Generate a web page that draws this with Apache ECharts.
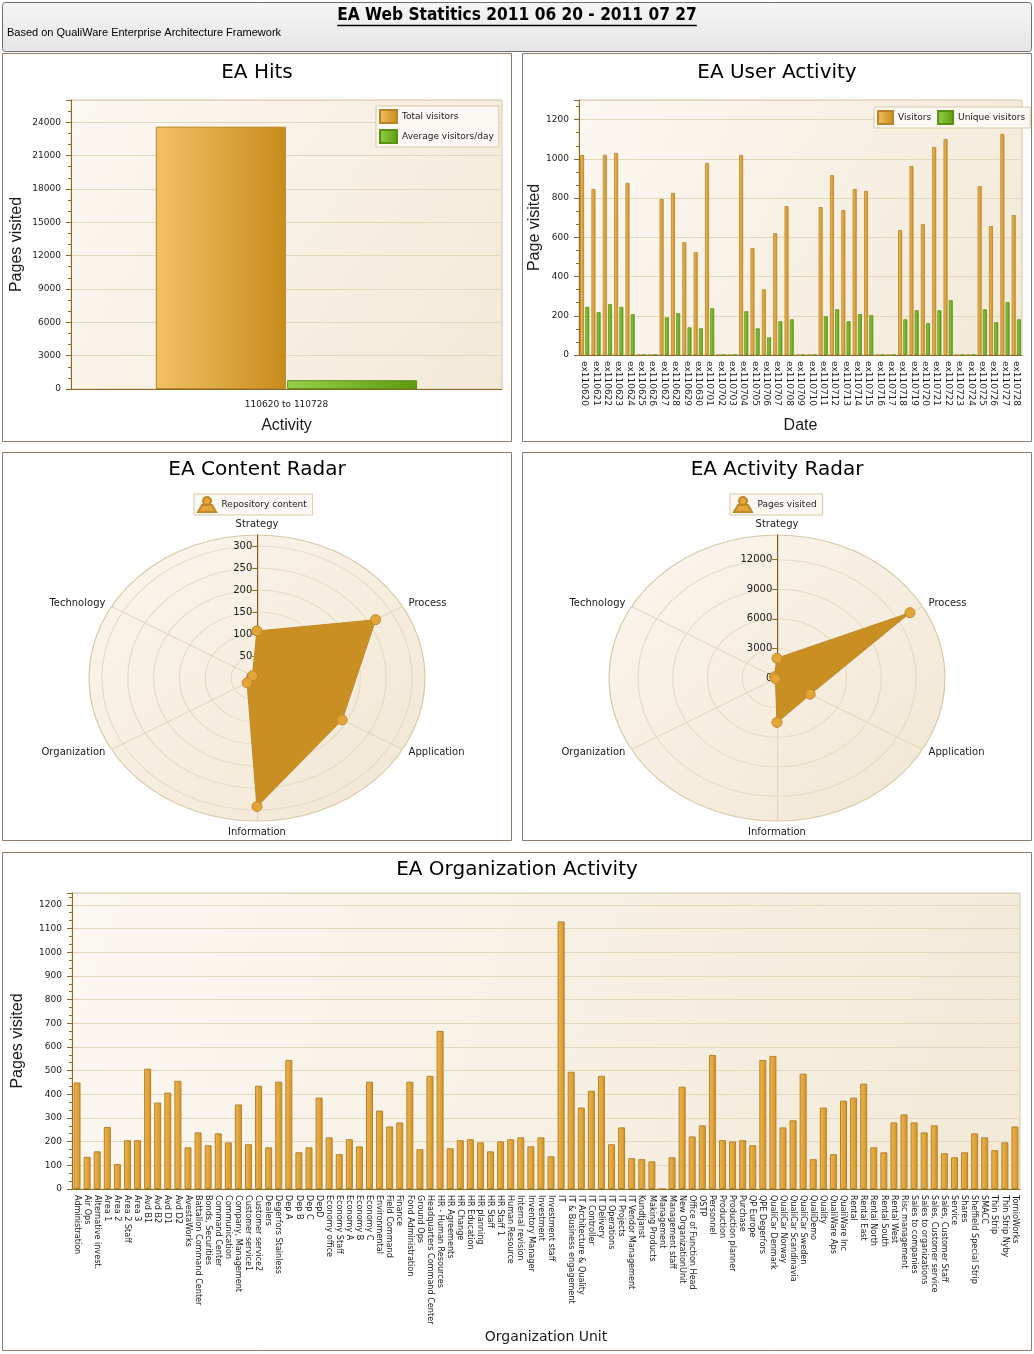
<!DOCTYPE html>
<html><head><meta charset="utf-8">
<script src="https://cdn.jsdelivr.net/npm/echarts@6/dist/echarts.min.js"></script>
<style>html,body{margin:0;padding:0;background:#fff}#c{width:1034px;height:1354px}</style>
</head><body><div id="c"></div>
<script>
// ---------------- DATA ----------------
const headerTitle = 'EA Web Statitics 2011 06 20 - 2011 07 27';
const headerSubtitle = 'Based on QualiWare Enterprise Architecture Framework';

const hitsCategories = ['110620 to 110728'];
const hitsTotalVisitors = [23600];
const hitsAverageVisitorsPerDay = [790];

const activityDates = ['ex110620','ex110621','ex110622','ex110623','ex110624','ex110625','ex110626','ex110627','ex110628','ex110629','ex110630',
  'ex110701','ex110702','ex110703','ex110704','ex110705','ex110706','ex110707','ex110708','ex110709','ex110710','ex110711','ex110712','ex110713',
  'ex110714','ex110715','ex110716','ex110717','ex110718','ex110719','ex110720','ex110721','ex110722','ex110723','ex110724','ex110725','ex110726',
  'ex110727','ex110728'];
const dailyVisitors = [1020,846,1020,1030,877,0,0,795,826,575,524,979,0,0,1020,545,335,621,759,0,0,754,917,739,846,836,0,0,637,963,667,1060,1101,0,0,861,657,1127,713];
const dailyUniqueVisitors = [245,218,259,245,208,0,0,192,213,141,136,238,0,0,223,136,90,172,182,0,0,197,233,172,208,203,0,0,182,228,162,228,279,0,0,233,167,269,182];

// radar indicators listed in ECharts order (counter-clockwise from top)
const radarIndicators = ['Strategy','Technology','Organization','Information','Application','Process'];
const repositoryContent = [107,10,22,292,190,265];
const pagesVisitedByArea = [2000,250,150,4500,3300,13250];
const contentRadarTickMax = 300, contentRadarTickStep = 50, contentRadarOuter = 325;
const activityRadarTickMax = 12000, activityRadarTickStep = 3000, activityRadarOuter = 14500;

const orgUnits = ['Administration','Air Ops','Alternative invest.','Area 1','Area 2','Area 2 Staff','Area 3','Avd B1','Avd B2','Avd D1','Avd D2',
  'AvestaWorks','Battalion Command Center','Bonds, Securities','Command Center','Communication','Company, Management','Customer service1',
  'Customer service2','Dealers','Degerfors Stainless','Dep A','Dep B','Dep C','DepD','Economy office','Economy Staff','Economy A','Economy B',
  'Economy C','Environmental','Field Command','Finance','Fond Administration','Ground Ops','Headquarters Command Center','HR - Human Resources',
  'HR Agreements','HR Change','HR Education','HR planning','HR Staff','HR Staff 1','Human Resource','Internal revision','Inventory Manager',
  'Investment','Investment staff','IT','IT & Business engagement','IT Architecture & Quality','IT Controller','IT Delivery','IT Operations',
  'IT Projects','IT Vendor Management','Kundtjanst','Making Products','Management','Management staff','New OrganizationUnit',
  'Office of Function Head','OSTP','Personnel','Production','Production planner','Purchase','QP Europe','QPE Degerfors','QualiCar Denmark',
  'QualiCar Norway','QualiCar Scandinavia','QualiCar Sweden','QualiDemo','Quality','QualiWare Aps','QualiWare Inc','Rental','Rental East',
  'Rental North','Rental South','Rental West','Risc management','Sales to companies','Sales to organizations','Sales, Customer service',
  'Sales, Customer Staff','Service','Shares','Sheffield Special Strip','SMACC','Thin Strip','Thin Strip Nyby','TornioWorks'];
const orgPagesVisited = [450,136,159,262,105,206,206,508,365,407,
  457,176,239,185,235,197,357,189,436,176,
  453,545,155,176,386,218,147,210,180,453,
  331,264,281,453,168,478,667,172,206,210,
  197,159,201,210,218,180,218,138,1130,495,
  344,415,478,189,260,130,126,117,0,134,
  432,222,269,566,206,201,206,185,545,562,
  260,290,487,126,344,147,373,386,445,176,
  155,281,315,281,239,269,151,134,155,235,
  218,164,197,264];

// ---------------- STYLE ----------------
const F = '"DejaVu Sans", Verdana, sans-serif';
const FN = '"DejaVu Sans Condensed", "Liberation Sans Narrow", "Arial Narrow", sans-serif';
const FA = '"Liberation Sans", Arial, sans-serif';
const AX = '#8B6B23';
const GRIDC = '#E2D6BD';
const TXT = '#1a1a1a';
const LG = echarts.graphic.LinearGradient;
const orange = new LG(0,0,1,0,[{offset:0,color:'#F2C165'},{offset:1,color:'#C98B1C'}]);
const orgOrange = new LG(0,0,1,0,[{offset:0,color:'#EDB752'},{offset:0.5,color:'#E2A53C'},{offset:1,color:'#CF9228'}]);
const green = new LG(0,0,1,0,[{offset:0,color:'#95D04C'},{offset:1,color:'#5C9B0E'}]);
const plotBg = () => new LG(0,0,1,1,[{offset:0,color:'#FCF8F2'},{offset:1,color:'#F2E9D7'}]);
const radarBg = () => new LG(0,0,1,1,[{offset:0,color:'#FBF6EE'},{offset:1,color:'#F1E6D2'}]);
const RADAR_R = 143;            // vertical radius
const RADAR_STRETCH = 168 / 143; // horizontal / vertical (elliptical look)

const chart = echarts.init(document.getElementById('c'), null, {renderer:'canvas'});

// header title size fit
const mctx = document.createElement('canvas').getContext('2d');
mctx.font = 'bold 20px ' + FN;
let hSize = 20 * 360 / mctx.measureText(headerTitle).width;
hSize = Math.max(15, Math.min(22, hSize));
mctx.font = 'bold ' + hSize + 'px ' + FN;
const hW = mctx.measureText(headerTitle).width;

const plain = v => String(v);

function yAxisCommon(extra) {
  return Object.assign({
    type:'value', min:0,
    axisLine:{show:true, lineStyle:{color:AX}},
    axisTick:{show:true, length:5, lineStyle:{color:AX}},
    minorTick:{show:true, splitNumber:3, length:3, lineStyle:{color:AX}},
    minorSplitLine:{show:false},
    axisLabel:{showMaxLabel:false, fontSize:9, fontFamily:F, color:TXT, margin:10, formatter: plain},
    splitLine:{show:true, lineStyle:{color:GRIDC}},
    nameLocation:'middle', nameRotate:90,
    nameTextStyle:{fontFamily:FA, fontSize:16, color:TXT}
  }, extra);
}

const hitsAxisData = ['', ''].concat(hitsCategories, ['', '']);
const padHits = arr => ['-','-'].concat(arr, ['-','-']);

const legendBox = {backgroundColor:'#FCF9F4', borderColor:'#D9C8A6', borderWidth:1, textStyle:{fontFamily:F, fontSize:9, color:TXT}};
const personIcon = 'path://M5,4a4,4 0 1,0 8,0a4,4 0 1,0 -8,0zM4,8L14,8L18,15L0,15z';

function radarPair(center, R, outerMax, tickMax, tickStep) {
  const innerR = R * tickMax / outerMax;
  return [
    {
      center, radius:R, startAngle:90, shape:'circle', splitNumber:1,
      indicator: radarIndicators.map((n,i)=> i===0 ? {name:n, min:0, max:outerMax, axisLine:{lineStyle:{color:'#7A5A1E', width:1}}} : {name:n, min:0, max:outerMax}),
      axisName:{color:TXT, fontFamily:F, fontSize:10}, nameGap:6,
      axisLine:{show:true, lineStyle:{color:'#E3D7C0'}},
      splitLine:{lineStyle:{color:'#D8C7A6'}},
      splitArea:{show:true, areaStyle:{color:[radarBg()]}},
      axisTick:{show:false}, axisLabel:{show:false}
    },
    {
      center, radius:innerR, startAngle:90, shape:'circle', splitNumber: tickMax/tickStep,
      indicator: radarIndicators.map((n,i)=> i===0 ?
        {name:n, min:0, max:tickMax, axisTick:{show:true, length:4, lineStyle:{color:AX}}, axisLabel:{show:true, fontSize:10, fontFamily:F, color:TXT, margin:4, formatter: plain}} :
        {name:n, min:0, max:tickMax}),
      axisName:{show:false},
      axisLine:{show:false},
      splitLine:{lineStyle:{color:'#E6DAC3'}},
      splitArea:{show:false},
      axisTick:{show:false}, axisLabel:{show:false, formatter: plain}
    }
  ];
}

const radarSeriesStyle = {
  symbol:'circle', symbolSize:10,
  areaStyle:{color:'#CA8F22', opacity:1},
  lineStyle:{color:'#B5842A', width:1},
  itemStyle:{color:'#E3A537', borderColor:'#C2892A', borderWidth:1}
};

const panel = (x,y,w,h) => ({type:'rect', z:-5, shape:{x,y,width:w,height:h}, style:{fill:'#fff', stroke:'#8E7D6B', lineWidth:1}});
const ttl = (x,y,t) => ({type:'text', z:50, x, y, style:{text:t, font:'20px ' + F, fill:'#000', align:'center', verticalAlign:'middle'}});

const option = {
  animation:false,
  backgroundColor:'#fff',
  graphic:[
    panel(2.5,53.5,509,388), panel(522.5,53.5,509,388), panel(2.5,452.5,509,388), panel(522.5,452.5,509,388), panel(2.5,852.5,1029,498),
    {type:'rect', z:20, shape:{x:2.5,y:2.5,width:1029,height:49,r:3}, style:{fill:new LG(0,0,0,1,[{offset:0,color:'#F5F5F5'},{offset:1,color:'#E6E6E6'}]), stroke:'#6E6E6E', lineWidth:1}},
    {type:'text', z:30, x:517, y:16, style:{text:headerTitle, font:'bold ' + hSize + 'px ' + FN, fill:'#000', align:'center', verticalAlign:'middle'}},
    {type:'line', z:30, shape:{x1:517-hW/2, y1:25.5, x2:517+hW/2, y2:25.5}, style:{stroke:'#000', lineWidth:1.5}},
    {type:'text', z:30, x:7, y:33, style:{text:headerSubtitle, font:'11px ' + FA, fill:'#000', align:'left', verticalAlign:'middle'}},
    ttl(257,73,'EA Hits'), ttl(777,73,'EA User Activity'), ttl(257,470,'EA Content Radar'), ttl(777,470,'EA Activity Radar'), ttl(517,870,'EA Organization Activity')
  ],
  grid:[
    {left:71, top:100, width:431, height:289, show:true, backgroundColor:plotBg(), borderColor:'#D6C6A6', borderWidth:1},
    {left:579, top:100, width:443, height:255, show:true, backgroundColor:plotBg(), borderColor:'#D6C6A6', borderWidth:1},
    {left:72, top:893, width:948, height:296, show:true, backgroundColor:plotBg(), borderColor:'#D6C6A6', borderWidth:1}
  ],
  xAxis:[
    {gridIndex:0, type:'category', data:hitsAxisData,
     axisLine:{lineStyle:{color:AX}}, axisTick:{alignWithLabel:true, length:4, lineStyle:{color:AX}},
     axisLabel:{interval:0, fontSize:9, fontFamily:F, color:TXT, margin:11},
     name:'Activity', nameLocation:'middle', nameGap:29, nameTextStyle:{fontFamily:FA, fontSize:16, color:TXT}},
    {gridIndex:1, type:'category', data:activityDates,
     axisLine:{lineStyle:{color:AX}}, axisTick:{alignWithLabel:true, interval:0, length:4, lineStyle:{color:AX}},
     axisLabel:{interval:0, rotate:-90, fontSize:9, fontFamily:F, color:TXT, margin:6},
     name:'Date', nameLocation:'middle', nameGap:63, nameTextStyle:{fontFamily:FA, fontSize:16, color:TXT}},
    {gridIndex:2, type:'category', data:orgUnits,
     axisLine:{lineStyle:{color:AX}}, axisTick:{alignWithLabel:true, interval:0, length:4, lineStyle:{color:AX}},
     axisLabel:{interval:0, rotate:-90, fontSize:9, fontFamily:FN, color:TXT, margin:6},
     name:'Organization Unit', nameLocation:'middle', nameGap:141, nameTextStyle:{fontFamily:F, fontSize:14, color:TXT}}
  ],
  yAxis:[
    yAxisCommon({gridIndex:0, max:26000, interval:3000, name:'Pages visited', nameGap:46}),
    yAxisCommon({gridIndex:1, max:1300, interval:200, name:'Page visited', nameGap:36}),
    yAxisCommon({gridIndex:2, max:1250, interval:100, name:'Pages visited', nameGap:46})
  ],
  legend:[
    Object.assign({data:['Total visitors','Average visitors/day'], orient:'vertical', left:376, top:106, itemWidth:17, itemHeight:13, itemGap:5, padding:[3,5,3,3], icon:'rect'}, legendBox),
    Object.assign({data:['Visitors','Unique visitors'], orient:'horizontal', left:874, top:107, itemWidth:15, itemHeight:13, itemGap:6, padding:[3,5,3,3], icon:'rect'}, legendBox),
    Object.assign({data:['Repository content'], left:194, top:494, itemWidth:19, itemHeight:15, padding:[2,6,2,3], icon:personIcon}, legendBox),
    Object.assign({data:['Pages visited'], left:730, top:494, itemWidth:19, itemHeight:15, padding:[2,6,2,3], icon:personIcon}, legendBox)
  ],
  radar: radarPair([257,678], RADAR_R, contentRadarOuter, contentRadarTickMax, contentRadarTickStep)
    .concat(radarPair([777,678], RADAR_R, activityRadarOuter, activityRadarTickMax, activityRadarTickStep)),
  series:[
    {type:'bar', name:'Total visitors', xAxisIndex:0, yAxisIndex:0, data:padHits(hitsTotalVisitors), barWidth:130, barGap:'1%',
     itemStyle:{color:orange, borderColor:'#B88427', borderWidth:1}},
    {type:'bar', name:'Average visitors/day', xAxisIndex:0, yAxisIndex:0, data:padHits(hitsAverageVisitorsPerDay), barWidth:130, barGap:'1%',
     itemStyle:{color:green, borderColor:'#5A9012', borderWidth:1}},
    {type:'bar', name:'Visitors', xAxisIndex:1, yAxisIndex:1, data:dailyVisitors, barWidth:4, barGap:'30%',
     itemStyle:{color:orange, borderColor:'#B88427', borderWidth:0.8}},
    {type:'bar', name:'Unique visitors', xAxisIndex:1, yAxisIndex:1, data:dailyUniqueVisitors, barWidth:4, barGap:'30%',
     itemStyle:{color:green, borderColor:'#5A9012', borderWidth:0.8}},
    {type:'bar', name:'Organization activity', xAxisIndex:2, yAxisIndex:2, data:orgPagesVisited, barWidth:7,
     itemStyle:{color:orgOrange, borderColor:'#B5822A', borderWidth:1}},
    Object.assign({type:'radar', name:'Repository content', radarIndex:1, data:[{name:'Repository content', value:repositoryContent}]}, radarSeriesStyle),
    Object.assign({type:'radar', name:'Pages visited', radarIndex:3, data:[{name:'Pages visited', value:pagesVisitedByArea}]}, radarSeriesStyle)
  ]
};
chart.setOption(option);

// Give the radars the elliptical look of the original: stretch the radar views horizontally
// about their centres while keeping texts and point markers unstretched.
function stretchRadarViews(k) {
  try {
    const views = [].concat(chart._componentsViews || [], chart._chartsViews || []);
    views.forEach(v => {
      if (!v || v.type !== 'radar' || !v.__model) return;
      const cs = v.__model.coordinateSystem;
      if (!cs || cs.cx == null) return;
      const isSeries = (chart._chartsViews || []).indexOf(v) >= 0;
      const g = v.group;
      g.originX = cs.cx; g.originY = cs.cy; g.scaleX = k;
      g.markRedraw && g.markRedraw();
      g.traverse(el => {
        const marker = isSeries && !el.isGroup && el.type !== 'polygon' && el.type !== 'polyline';
        if (el.type === 'text' || marker) {
          el.scaleX = el.scaleX / k;
          el.markRedraw && el.markRedraw();
        }
      });
    });
    chart.getZr().refresh();
  } catch (e) { console.error(e); }
}
stretchRadarViews(RADAR_STRETCH);
</script></body></html>
